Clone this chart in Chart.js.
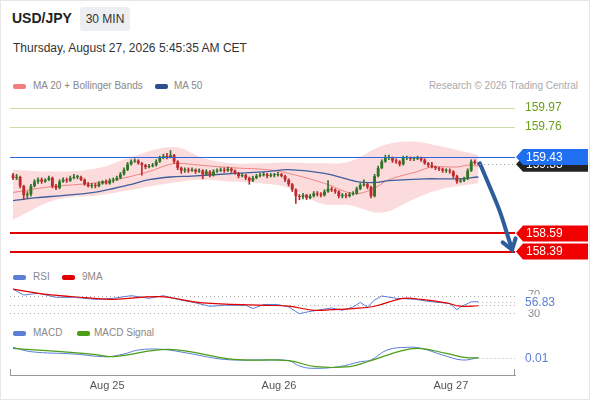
<!DOCTYPE html>
<html lang="en">
<head>
  <meta charset="UTF-8" />
  <title>USD/JPY 30 MIN</title>
  <script src="https://cdn.jsdelivr.net/npm/chart.js"></script>
  <style>
    body { margin: 0; width: 590px; height: 400px; overflow: hidden; background: #fff;
           font-family: "Liberation Sans", Arial, sans-serif; position: relative; }
    .frame { position: absolute; left: 0; top: 0; width: 588px; height: 398px; border: 1px solid #e6e6e6; }
    .abs { position: absolute; white-space: nowrap; }
    .sym { left: 12px; top: 10px; font-size: 14px; font-weight: bold; color: #222; }
    .tf { left: 80px; top: 7px; width: 50px; height: 24px; line-height: 24px; text-align: center;
          font-size: 12px; color: #333; background: #eceef1; border-radius: 3px; }
    .date { left: 13px; top: 41px; font-size: 12px; color: #333; }
    .leg { font-size: 10px; color: #888; line-height: 12px; }
    .sw { position: absolute; width: 13px; height: 5px; border-radius: 2px; }
    .credit { right: 12px; top: 80px; font-size: 10px; color: #aaa; }
    canvas { position: absolute; left: 0; }
  </style>
</head>
<body>
  <div class="frame"></div>

  <!-- header -->
  <div class="abs sym">USD/JPY</div>
  <div class="abs tf">30 MIN</div>
  <div class="abs date">Thursday, August 27, 2026 5:45:35 AM CET</div>

  <!-- legends -->
  <div class="sw" style="left:13px;top:84px;background:#f47c7c"></div>
  <div class="abs leg" style="left:33px;top:80px">MA 20 + Bollinger Bands</div>
  <div class="sw" style="left:155px;top:84px;background:#2d4e8e"></div>
  <div class="abs leg" style="left:174px;top:80px">MA 50</div>
  <div class="abs credit">Research © 2026 Trading Central</div>

  <div class="sw" style="left:13px;top:275px;background:#5b7fd6"></div>
  <div class="abs leg" style="left:33px;top:271px">RSI</div>
  <div class="sw" style="left:62px;top:275px;background:#e00000"></div>
  <div class="abs leg" style="left:82px;top:271px">9MA</div>

  <div class="sw" style="left:13px;top:331px;background:#5b7fd6"></div>
  <div class="abs leg" style="left:33px;top:327px">MACD</div>
  <div class="sw" style="left:77px;top:331px;background:#4b9e16"></div>
  <div class="abs leg" style="left:94px;top:327px">MACD Signal</div>

  <canvas id="priceChart" width="590" height="170" style="top:95px"></canvas>
  <canvas id="rsiChart" width="590" height="41" style="top:284px"></canvas>
  <canvas id="macdChart" width="590" height="60" style="top:340px"></canvas>

  <script>
    // ---- data (30 min candles, index 0 = first bar) ----
    const firstOpen = 159.23;
    const closes = [
      159.20,159.21,159.11,159.01,159.02,159.11,159.16,159.18,159.16,159.18,
      159.20,159.11,159.09,159.16,159.18,159.17,159.20,159.21,159.21,159.18,
      159.13,159.11,159.12,159.11,159.14,159.16,159.14,159.17,159.18,159.20,
      159.24,159.29,159.35,159.38,159.39,159.36,159.34,159.32,159.33,159.34,
      159.38,159.42,159.44,159.43,159.45,159.38,159.31,159.28,159.29,159.28,
      159.29,159.27,159.28,159.24,159.27,159.23,159.27,159.28,159.29,159.28,
      159.30,159.28,159.25,159.22,159.23,159.20,159.17,159.20,159.22,159.23,
      159.24,159.22,159.23,159.23,159.24,159.22,159.18,159.13,159.07,159.00,
      158.99,159.01,158.98,159.00,159.03,159.02,159.01,159.05,159.08,159.07,
      159.05,159.00,159.01,159.00,159.02,159.03,159.08,159.12,159.13,159.10,
      159.00,159.22,159.31,159.38,159.42,159.42,159.39,159.38,159.35,159.42,
      159.42,159.41,159.41,159.42,159.40,159.36,159.34,159.32,159.31,159.30,
      159.28,159.28,159.27,159.22,159.16,159.17,159.19,159.28,159.38,159.36,
      159.35
    ];
    const highs = [
      159.25,159.24,159.22,159.12,159.05,159.13,159.18,159.20,159.20,159.19,
      159.22,159.21,159.13,159.18,159.20,159.20,159.22,159.24,159.23,159.22,
      159.19,159.15,159.14,159.14,159.16,159.17,159.18,159.19,159.20,159.22,
      159.26,159.31,159.37,159.40,159.41,159.40,159.37,159.35,159.35,159.36,
      159.40,159.44,159.46,159.47,159.50,159.46,159.39,159.32,159.31,159.31,
      159.31,159.30,159.30,159.29,159.29,159.28,159.29,159.30,159.31,159.31,
      159.32,159.31,159.29,159.26,159.25,159.24,159.21,159.22,159.24,159.25,
      159.26,159.25,159.25,159.25,159.26,159.25,159.23,159.19,159.14,159.08,
      159.02,159.03,159.02,159.02,159.05,159.05,159.04,159.07,159.17,159.10,
      159.08,159.06,159.03,159.03,159.04,159.05,159.10,159.14,159.18,159.14,
      159.11,159.24,159.33,159.40,159.45,159.45,159.43,159.41,159.39,159.44,
      159.44,159.43,159.43,159.44,159.43,159.41,159.37,159.37,159.33,159.32,
      159.31,159.30,159.30,159.28,159.23,159.19,159.21,159.30,159.40,159.40,
      159.37
    ];
    const lows = [
      159.18,159.18,159.09,158.96,158.98,159.00,159.10,159.14,159.14,159.15,
      159.17,159.09,159.07,159.08,159.15,159.15,159.16,159.19,159.19,159.17,
      159.12,159.10,159.09,159.09,159.10,159.13,159.13,159.13,159.15,159.17,
      159.19,159.23,159.28,159.34,159.37,159.35,159.23,159.30,159.31,159.32,
      159.33,159.37,159.41,159.41,159.42,159.36,159.29,159.25,159.26,159.26,
      159.27,159.25,159.26,159.19,159.23,159.21,159.22,159.26,159.27,159.26,
      159.27,159.26,159.24,159.20,159.21,159.18,159.13,159.16,159.19,159.21,
      159.22,159.20,159.21,159.21,159.22,159.21,159.16,159.11,159.05,158.92,
      158.96,158.97,158.96,158.97,158.99,159.00,158.99,159.00,159.04,159.05,
      159.03,158.98,158.98,158.98,158.99,159.01,159.02,159.07,159.11,159.08,
      158.98,158.99,159.21,159.30,159.37,159.40,159.37,159.36,159.33,159.34,
      159.40,159.39,159.39,159.40,159.38,159.35,159.32,159.31,159.29,159.28,
      159.26,159.26,159.25,159.20,159.14,159.15,159.16,159.18,159.27,159.35,
      159.34
    ];

    // moving averages and bands, sampled at bar indices
    const ma20X = [0, 10, 24, 31, 38, 43, 46, 52, 62, 71, 77, 87, 95, 100, 105, 113, 117, 124, 127, 130];
    const ma20Y = [159.04,159.10,159.15,159.20,159.27,159.34,159.36,159.34,159.31,159.29,159.25,159.14,159.03,159.07,159.18,159.27,159.32,159.32,159.34,159.33];
    const ma50X = [0, 6, 15, 24, 32, 38, 44, 50, 62, 71, 77, 87, 96, 101, 105, 115, 124, 130];
    const ma50Y = [158.95,158.98,159.01,159.05,159.12,159.18,159.21,159.22,159.25,159.27,159.29,159.25,159.16,159.15,159.17,159.19,159.19,159.21];
    const bbX = [0, 12, 24, 33, 45, 53, 61, 69, 77, 86, 94, 103, 111, 119, 130];
    const bbUpper = [159.29,159.27,159.31,159.43,159.54,159.42,159.36,159.36,159.37,159.36,159.38,159.55,159.60,159.55,159.45];
    const bbLower = [158.74,158.96,159.01,159.07,159.15,159.18,159.16,159.14,159.09,158.92,158.90,158.82,158.95,159.07,159.14];

    // key levels and forecast path
    const resistLevels = [159.97, 159.76];
    const pivotLevel = 159.43;
    const targetLevels = [158.59, 158.39];
    const lastPrice = 159.35;
    const arrowX = [130.4, 133.2, 136.0, 138.3, 139.4];
    const arrowY = [159.36, 159.10, 158.83, 158.55, 158.41];

    // RSI panel
    const rsiX = [0, 3, 7, 12, 17, 23, 28, 33, 38, 42, 46, 51, 55, 59, 65, 67, 70, 74, 77, 80, 82, 86, 89, 92, 95, 97, 99, 101, 103, 107, 112, 117, 122, 124, 125, 128, 130];
    const rsiY = [87.5, 73, 77.5, 67.5, 67.5, 62.5, 65, 71.5, 65, 71.5, 62.5, 54, 45.7, 48, 48, 40, 50, 50, 44, 27.5, 31.5, 37.5, 41.5, 35.8, 44, 55, 44, 60.8, 70.8, 65, 63, 56.5, 52.5, 37.5, 44, 56.5, 56.83];
    const rsiMaX = [0, 10, 20, 28, 41, 53, 70, 77, 84, 89, 95, 101, 109, 114, 121, 125, 130];
    const rsiMaY = [87.5, 74, 67, 62.4, 69, 54, 48, 45.8, 35.8, 37.4, 40, 45.8, 65, 62.4, 54, 45.8, 47];
    const rsiLevels = [70, 50, 30];
    const rsiLast = 56.83;

    // MACD panel
    const macdX = [0, 5, 17, 26, 31, 35, 41.5, 49, 59, 70, 77, 80, 83.5, 91, 97, 100, 104.5, 110, 114, 120, 125.5, 130];
    const macdY = [0.062, 0.040, 0.0285, 0.015, 0.0285, 0.0485, 0.052, 0.032, 0.0015, -0.0015, -0.005, -0.0315, -0.043, -0.035, -0.01, -0.0015, 0.0485, 0.062, 0.057, 0.0235, -0.0015, 0.01];
    const sigX = [0, 22.6, 28, 43.6, 61.5, 77, 84.6, 94, 99, 107.7, 113, 121, 126.6, 130];
    const sigY = [0.057, 0.027, 0.015, 0.052, 0.002, -0.005, -0.035, -0.035, -0.01, 0.04, 0.057, 0.032, 0.01, 0.01];
    const macdLast = 0.01;

    // x axis date labels (bar-index positions)
    const dayTicks = [26.3, 74.3, 122.3];
    const dayLabels = ['Aug 25', 'Aug 26', 'Aug 27'];

    // ---- shared layout ----
    const xMin = -0.84, xMax = 140.22;
    const pad = { left: 10, right: 75, top: 0, bottom: 0 };
    const GREEN = '#2f7429', RED = '#bf2a2e';

    const opens = closes.map((c, i) => i ? closes[i - 1] : firstOpen);
    const candleColors = closes.map((c, i) => c >= opens[i] ? GREEN : RED);
    const pts = (xs, ys) => xs.map((x, i) => ({ x: x, y: ys[i] }));

    const baseOpts = (yMin, yMax) => ({
      responsive: false,
      animation: false,
      events: [],
      layout: { padding: pad },
      plugins: { legend: { display: false }, tooltip: { enabled: false } },
      scales: {
        x: { type: 'linear', min: xMin, max: xMax, offset: false, display: false },
        y: { type: 'linear', min: yMin, max: yMax, beginAtZero: false, display: false }
      }
    });

    function tag(ctx, x, y, w, h, fill, text) {
      ctx.beginPath();
      ctx.moveTo(x, y);
      ctx.lineTo(x + 7, y - h / 2);
      ctx.lineTo(x + w, y - h / 2);
      ctx.lineTo(x + w, y + h / 2);
      ctx.lineTo(x + 7, y + h / 2);
      ctx.closePath();
      ctx.fillStyle = fill;
      ctx.fill();
      ctx.fillStyle = '#fff';
      ctx.font = '12px "Liberation Sans", Arial, sans-serif';
      ctx.textBaseline = 'middle';
      ctx.fillText(text, x + 10, y + 0.5);
    }

    const priceMarks = {
      id: 'priceMarks',
      beforeDatasetsDraw(chart) {
        const { ctx, chartArea: a, scales: { y } } = chart;
        const hline = (v, color, w) => {
          const py = Math.round(y.getPixelForValue(v)) + (w === 1 ? 0.5 : 0);
          ctx.strokeStyle = color; ctx.lineWidth = w;
          ctx.beginPath(); ctx.moveTo(a.left, py); ctx.lineTo(a.right, py); ctx.stroke();
        };
        ctx.save();
        resistLevels.forEach(v => hline(v, '#c9dcaa', 1));
        targetLevels.forEach(v => hline(v, '#e00000', 2));
        ctx.restore();
      },
      afterDatasetsDraw(chart) {
        const { ctx, chartArea: a, scales: { x, y } } = chart;
        ctx.save();
        // pivot line over the band
        const pv = Math.round(y.getPixelForValue(pivotLevel)) + 0.5;
        ctx.strokeStyle = '#2d64e0'; ctx.lineWidth = 1;
        ctx.beginPath(); ctx.moveTo(a.left, pv); ctx.lineTo(a.right, pv); ctx.stroke();
        // dotted last price line
        const py = Math.round(y.getPixelForValue(lastPrice)) + 0.5;
        ctx.strokeStyle = '#999'; ctx.lineWidth = 1; ctx.setLineDash([1, 3]);
        ctx.beginPath(); ctx.moveTo(x.getPixelForValue(closes.length - 0.5), py); ctx.lineTo(a.right, py); ctx.stroke();
        ctx.setLineDash([]);
        // arrow head
        const pts = chart.getDatasetMeta(chart.data.datasets.length - 1).data;
        const tip = pts[pts.length - 1], prev = pts[pts.length - 2];
        const ang = Math.atan2(tip.y - prev.y, tip.x - prev.x);
        ctx.strokeStyle = '#2d5d9a'; ctx.lineWidth = 4; ctx.lineCap = 'round';
        ctx.beginPath();
        ctx.moveTo(tip.x - 12 * Math.cos(ang - 0.6), tip.y - 12 * Math.sin(ang - 0.6));
        ctx.lineTo(tip.x, tip.y);
        ctx.lineTo(tip.x - 12 * Math.cos(ang + 0.6), tip.y - 12 * Math.sin(ang + 0.6));
        ctx.stroke();
        ctx.restore();
      },
      afterDraw(chart) {
        const { ctx, chartArea: a, scales: { y } } = chart;
        ctx.save();
        ctx.font = '12px "Liberation Sans", Arial, sans-serif';
        ctx.textBaseline = 'middle';
        ctx.fillStyle = '#6a9f1f';
        resistLevels.forEach(v => ctx.fillText(v.toFixed(2), a.right + 10, y.getPixelForValue(v)));
        tag(ctx, a.right + 1, y.getPixelForValue(lastPrice), 72, 15, '#222', lastPrice.toFixed(2));
        tag(ctx, a.right + 1, y.getPixelForValue(pivotLevel), 72, 16, '#1f6ff0', pivotLevel.toFixed(2));
        targetLevels.forEach(v => tag(ctx, a.right + 1, y.getPixelForValue(v), 72, 16, '#f00000', v.toFixed(2)));
        ctx.restore();
      }
    };

    const priceOpts = baseOpts(158.243, 160.111);
    new Chart(document.getElementById('priceChart'), {
      type: 'bar',
      data: {
        datasets: [
          { type: 'line', data: pts(bbX, bbUpper), borderWidth: 0, pointRadius: 0, tension: 0.4, fill: false, order: 10 },
          { type: 'line', data: pts(bbX, bbLower), borderWidth: 0, pointRadius: 0, tension: 0.4,
            fill: '-1', backgroundColor: 'rgba(246,165,165,0.4)', order: 10 },
          { type: 'line', data: pts(ma50X, ma50Y), borderColor: '#3f5f9e', borderWidth: 1.3, pointRadius: 0, tension: 0.4, order: 5 },
          { type: 'line', data: pts(ma20X, ma20Y), borderColor: '#f08484', borderWidth: 1, pointRadius: 0, tension: 0.4, order: 5 },
          { data: closes.map((c, i) => ({ x: i, y: [lows[i], highs[i]] })), backgroundColor: candleColors,
            barThickness: 1, grouped: false, order: 2 },
          { data: closes.map((c, i) => ({ x: i, y: [opens[i], c] })), backgroundColor: candleColors,
            barPercentage: 0.8, categoryPercentage: 1, minBarLength: 1, grouped: false, order: 1 },
          { type: 'line', data: pts(arrowX, arrowY), borderColor: '#2d5d9a', borderWidth: 4, pointRadius: 0,
            tension: 0.35, borderCapStyle: 'round', order: 0 }
        ]
      },
      options: priceOpts,
      plugins: [priceMarks]
    });

    const rsiMarks = {
      id: 'rsiMarks',
      beforeDatasetsDraw(chart) {
        const { ctx, chartArea: a, scales: { y } } = chart;
        ctx.save();
        ctx.strokeStyle = '#aaa'; ctx.lineWidth = 1; ctx.setLineDash([1, 3]);
        rsiLevels.forEach(v => {
          const py = Math.round(y.getPixelForValue(v)) + 0.5;
          ctx.beginPath(); ctx.moveTo(a.left, py); ctx.lineTo(a.right, py); ctx.stroke();
        });
        ctx.restore();
      },
      afterDraw(chart) {
        const { ctx, chartArea: a, scales: { x, y } } = chart;
        ctx.save();
        const py = Math.round(y.getPixelForValue(rsiLast)) + 0.5;
        ctx.strokeStyle = '#aaa'; ctx.setLineDash([1, 3]);
        ctx.beginPath(); ctx.moveTo(x.getPixelForValue(130), py); ctx.lineTo(a.right, py); ctx.stroke();
        ctx.font = '11px "Liberation Sans", Arial, sans-serif';
        ctx.textBaseline = 'middle';
        ctx.fillStyle = '#888';
        ctx.fillText('70', a.right + 13, y.getPixelForValue(70) - 1);
        ctx.fillText('30', a.right + 13, y.getPixelForValue(30) + 1);
        ctx.fillStyle = '#fff';
        ctx.fillRect(a.right + 8, py - 8, 40, 15);
        ctx.font = '12px "Liberation Sans", Arial, sans-serif';
        ctx.fillStyle = '#5b7fd6';
        ctx.fillText(rsiLast.toFixed(2), a.right + 10, py);
        ctx.restore();
      }
    };

    new Chart(document.getElementById('rsiChart'), {
      type: 'line',
      data: {
        datasets: [
          { data: pts(rsiMaX, rsiMaY), borderColor: '#e00000', borderWidth: 1.2, pointRadius: 0, tension: 0.4 },
          { data: pts(rsiX, rsiY), borderColor: '#5b7fd6', borderWidth: 1, pointRadius: 0, tension: 0 }
        ]
      },
      options: baseOpts(0, 100),
      plugins: [rsiMarks]
    });

    const macdMarks = {
      id: 'macdMarks',
      afterDraw(chart) {
        const { ctx, chartArea: a, scales: { x, y } } = chart;
        ctx.save();
        const py = Math.round(y.getPixelForValue(macdLast)) + 0.5;
        ctx.strokeStyle = '#aaa'; ctx.lineWidth = 1; ctx.setLineDash([1, 3]);
        ctx.beginPath(); ctx.moveTo(x.getPixelForValue(130), py); ctx.lineTo(a.right, py); ctx.stroke();
        ctx.setLineDash([]);
        ctx.font = '12px "Liberation Sans", Arial, sans-serif';
        ctx.textBaseline = 'middle';
        ctx.fillStyle = '#5b7fd6';
        ctx.fillText(macdLast.toFixed(2), a.right + 10, py);
        // axis end caps
        ctx.strokeStyle = '#999';
        [a.left + 0.5, a.right - 0.5].forEach(px => {
          ctx.beginPath(); ctx.moveTo(px, a.bottom); ctx.lineTo(px, a.bottom - 6); ctx.stroke();
        });
        ctx.restore();
      }
    };

    const macdOpts = baseOpts(-0.0765, 0.0985);
    macdOpts.scales.x = {
      type: 'linear', min: xMin, max: xMax, offset: false, display: true, position: 'bottom',
      grid: { display: false, drawTicks: false },
      border: { display: true, color: '#999', width: 1 },
      ticks: { color: '#555', font: { size: 11, family: '"Liberation Sans", Arial, sans-serif' }, padding: 4,
               autoSkip: false, maxRotation: 0, callback: (v, i) => dayLabels[i] },
      afterBuildTicks: s => { s.ticks = dayTicks.map(v => ({ value: v })); },
      afterFit: s => { s.height = 25; }
    };

    new Chart(document.getElementById('macdChart'), {
      type: 'line',
      data: {
        datasets: [
          { data: pts(sigX, sigY), borderColor: '#4b9e16', borderWidth: 1.2, pointRadius: 0, tension: 0.4 },
          { data: pts(macdX, macdY), borderColor: '#5b7fd6', borderWidth: 1, pointRadius: 0, tension: 0.4 }
        ]
      },
      options: macdOpts,
      plugins: [macdMarks]
    });
  </script>
</body>
</html>
